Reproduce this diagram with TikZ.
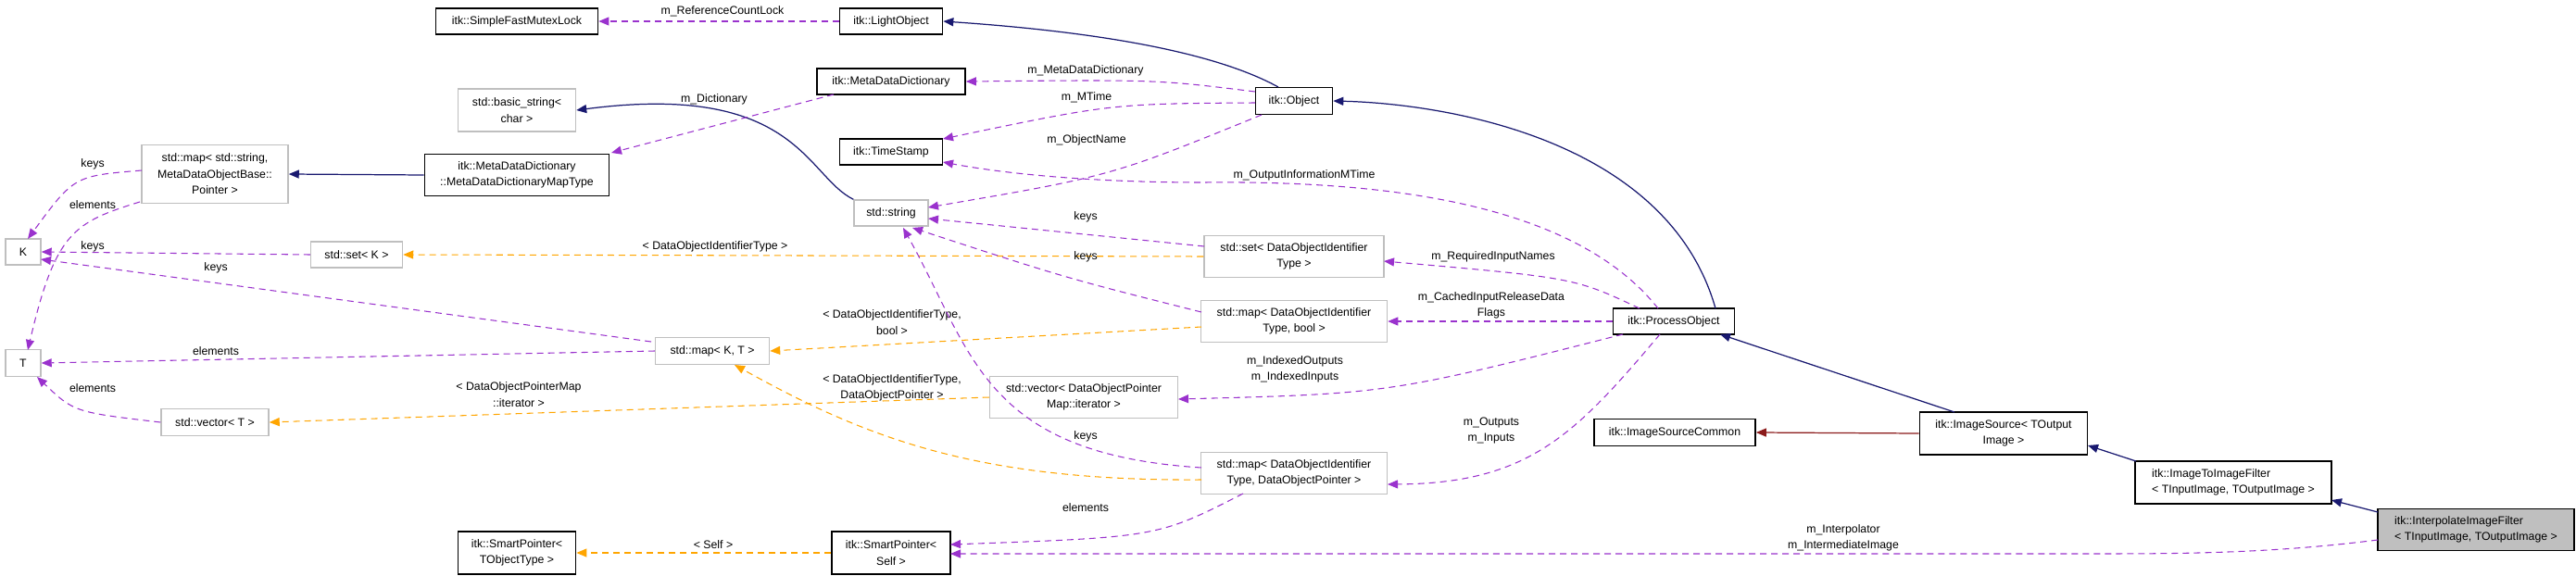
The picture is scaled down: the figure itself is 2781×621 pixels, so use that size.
\documentclass[tikz,border=0pt]{standalone}
\usepackage{fontspec}
\setmainfont{Liberation Sans}
\usetikzlibrary{arrows.meta}
\definecolor{mem}{HTML}{9A32CD}
\definecolor{tpl}{HTML}{FFA500}
\definecolor{inh}{HTML}{191970}
\definecolor{inhp}{HTML}{8B1A1A}
\definecolor{gbox}{HTML}{BFBFBF}
\tikzset{
  every node/.style={font=\fontsize{3.5}{5}\selectfont, inner sep=0pt},
  cls/.style={draw=black, line width=0.45pt, align=center, fill=white},
  ext/.style={draw=gbox, line width=0.4pt, align=center, fill=white},
  lbl/.style={align=center},
  memb/.style={draw=mem, line width=0.3pt, dash pattern=on 0.07cm off 0.05cm, arrows={-{Triangle[length=0.11cm,width=0.09cm,fill=mem]}}},
  tmpl/.style={draw=tpl, line width=0.3pt, dash pattern=on 0.07cm off 0.05cm, arrows={-{Triangle[length=0.11cm,width=0.09cm,fill=tpl]}}},
  inher/.style={draw=inh, line width=0.35pt, arrows={-{Triangle[length=0.11cm,width=0.09cm,fill=inh]}}},
  inherp/.style={draw=inhp, line width=0.35pt, arrows={-{Triangle[length=0.11cm,width=0.09cm,fill=inhp]}}},
}
\begin{document}
\begin{tikzpicture}[x=0.01cm,y=-0.01cm]
\useasboundingbox (0,0) rectangle (2781,621);
% nodes
\node[cls,minimum width=1.75cm,minimum height=0.28cm] (sfml) at (558,23) {itk::SimpleFastMutexLock};
\node[cls,minimum width=1.11cm,minimum height=0.28cm] (lo) at (962,23) {itk::LightObject};
\node[ext,minimum width=1.27cm,minimum height=0.46cm] (bs) at (558,119) {std::basic\_string<\\[0.3pt]char >};
\node[cls,minimum width=1.60cm,minimum height=0.28cm] (mdd) at (962,88) {itk::MetaDataDictionary};
\node[cls,minimum width=0.83cm,minimum height=0.29cm] (obj) at (1397,109) {itk::Object};
\node[cls,minimum width=1.11cm,minimum height=0.28cm] (ts) at (962,164) {itk::TimeStamp};
\node[ext,minimum width=1.58cm,minimum height=0.63cm] (mstr) at (232,188) {std::map< std::string,\\MetaDataObjectBase::\\Pointer >};
\node[cls,minimum width=1.99cm,minimum height=0.45cm] (mt) at (558,189) {itk::MetaDataDictionary\\::MetaDataDictionaryMapType};
\node[ext,minimum width=0.80cm,minimum height=0.28cm] (str) at (962,230) {std::string};
\node[ext,minimum width=0.38cm,minimum height=0.28cm] (K) at (25,272) {K};
\node[ext,minimum width=0.99cm,minimum height=0.28cm] (setK) at (385,275) {std::set< K >};
\node[ext,minimum width=0.38cm,minimum height=0.29cm] (T) at (25,392) {T};
\node[ext,minimum width=1.23cm,minimum height=0.29cm] (mKT) at (769,379) {std::map< K, T >};
\node[ext,minimum width=1.16cm,minimum height=0.29cm] (vT) at (232,456) {std::vector< T >};
\node[cls,minimum width=1.27cm,minimum height=0.46cm] (spt) at (558,597) {itk::SmartPointer<\\TObjectType >};
\node[ext,minimum width=1.94cm,minimum height=0.45cm] (sdoi) at (1397,277) {std::set< DataObjectIdentifier\\Type >};
\node[ext,minimum width=2.01cm,minimum height=0.45cm] (mbool) at (1397,347) {std::map< DataObjectIdentifier\\Type, bool >};
\node[cls,minimum width=1.31cm,minimum height=0.28cm] (po) at (1807,347) {itk::ProcessObject};
\node[ext,minimum width=2.03cm,minimum height=0.45cm] (vdop) at (1170,429) {std::vector< DataObjectPointer\\Map::iterator >};
\node[ext,minimum width=2.01cm,minimum height=0.45cm] (mdop) at (1397,511) {std::map< DataObjectIdentifier\\Type, DataObjectPointer >};
\node[cls,minimum width=1.28cm,minimum height=0.46cm] (sps) at (962,597) {itk::SmartPointer<\\Self >};
\node[cls,minimum width=1.74cm,minimum height=0.29cm] (isc) at (1808,467) {itk::ImageSourceCommon};
\node[cls,minimum width=1.81cm,minimum height=0.46cm] (is) at (2163,468) {itk::ImageSource< TOutput\\Image >};
\node[cls,minimum width=2.12cm,minimum height=0.46cm,align=left] (iti) at (2411,521) {itk::ImageToImageFilter\\< TInputImage, TOutputImage >};
\node[cls,fill=gbox,minimum width=2.12cm,minimum height=0.45cm,align=left] (iif) at (2673,572) {itk::InterpolateImageFilter\\< TInputImage, TOutputImage >};

% edges
\draw[memb] (lo.west) -- (sfml.east);
\node[lbl] (l1) at (780,12) {m\_ReferenceCountLock};
\draw[inher] (1380,94) .. controls (1300,50) and (1150,32) .. (lo.east);
\draw[memb] (1355,99) .. controls (1250,86) .. (mdd.east);
\node[lbl] (l2) at (1172,76) {m\_MetaDataDictionary};
\draw[memb] (1355,111) .. controls (1200,112) .. (1018,150);
\node[lbl] (l3) at (1173,105) {m\_MTime};
\draw[memb] (1362,124) .. controls (1200,190) .. (1002,224);
\node[lbl] (l4) at (1173,151) {m\_ObjectName};
\draw[inher] (str.north west) .. controls (870,190) and (860,88) .. (bs.east);
\draw[memb] (900,102) -- (660,165);
\node[lbl] (l5) at (771,107) {m\_Dictionary};
\draw[inher] (mt.west) -- (mstr.east);
\draw[memb] (153,184) .. controls (80,190) .. (30,258);
\node[lbl] (l6) at (100,177) {keys};
\draw[memb] (151,218) .. controls (80,240) and (60,250) .. (30,378);
\node[lbl] (l7) at (100,221) {elements};
\draw[memb] (setK.west) -- (K.east);
\node[lbl] (l8) at (100,266) {keys};
\draw[memb] (703,369) -- (44,280);
\node[lbl] (l9) at (233,289) {keys};
\draw[memb] (mKT.west) -- (T.east);
\node[lbl] (l10) at (233,379) {elements};
\draw[memb] (vT.west) .. controls (80,445) .. (40,407);
\node[lbl] (l11) at (100,419) {elements};
\draw[tmpl] (sdoi.west) -- (setK.east);
\node[lbl] (l12) at (772,266) {< DataObjectIdentifierType >};
\draw[tmpl] (1297,353) -- (mKT.east);
\node[lbl] (l13) at (963,348) {< DataObjectIdentifierType,\\bool >};
\draw[tmpl] (1297,518) .. controls (1050,520) and (930,470) .. (793,394);
\node[lbl] (l14) at (963,419) {< DataObjectIdentifierType,\\DataObjectPointer >};
\draw[tmpl] (vdop.west) -- (vT.east);
\node[lbl] (l15) at (560,426) {< DataObjectPointerMap\\::iterator >};
\draw[tmpl] (sps.west) -- (spt.east);
\node[lbl] (l16) at (770,588) {< Self >};
\draw[memb] (1300,266) -- (1002,236);
\node[lbl] (l17) at (1172,234) {keys};
\draw[memb] (1297,337) .. controls (1150,300) .. (985,246);
\node[lbl] (l18) at (1172,277) {keys};
\draw[memb] (1297,505) .. controls (1060,490) and (1050,380) .. (975,246);
\node[lbl] (l19) at (1172,471) {keys};
\draw[memb] (1342,533) .. controls (1250,580) .. (1026,588);
\node[lbl] (l20) at (1172,548) {elements};
\draw[inher] (1852,333) .. controls (1800,150) and (1560,112) .. (obj.east);
\draw[memb] (1790,333) .. controls (1700,220) and (1500,195) .. (1300,197) .. controls (1150,197) and (1060,183) .. (1018,175);
\node[lbl] (l21) at (1408,189) {m\_OutputInformationMTime};
\draw[memb] (1770,333) .. controls (1700,300) .. (1494,282);
\node[lbl] (l22) at (1612,277) {m\_RequiredInputNames};
\draw[memb] (po.west) -- (mbool.east);
\node[lbl] (l23) at (1610,330) {m\_CachedInputReleaseData\\Flags};
\draw[memb] (1752,361) .. controls (1500,425) .. (1272,431);
\node[lbl] (l24) at (1398,399) {m\_IndexedOutputs\\m\_IndexedInputs};
\draw[memb] (1792,361) .. controls (1700,470) and (1650,522) .. (1498,523);
\node[lbl] (l25) at (1610,465) {m\_Outputs\\m\_Inputs};
\draw[inher] (2110,445) -- (1857,361);
\draw[inherp] (is.west) -- (isc.east);
\draw[inher] (2306,498) -- (2254,481);
\draw[inher] (2567,553) -- (2517,540);
\draw[memb] (2567,583) .. controls (2450,598) and (2350,598) .. (2250,598) -- (1026,598);
\node[lbl] (l26) at (1990,581) {m\_Interpolator\\m\_IntermediateImage};
\end{tikzpicture}
\end{document}
